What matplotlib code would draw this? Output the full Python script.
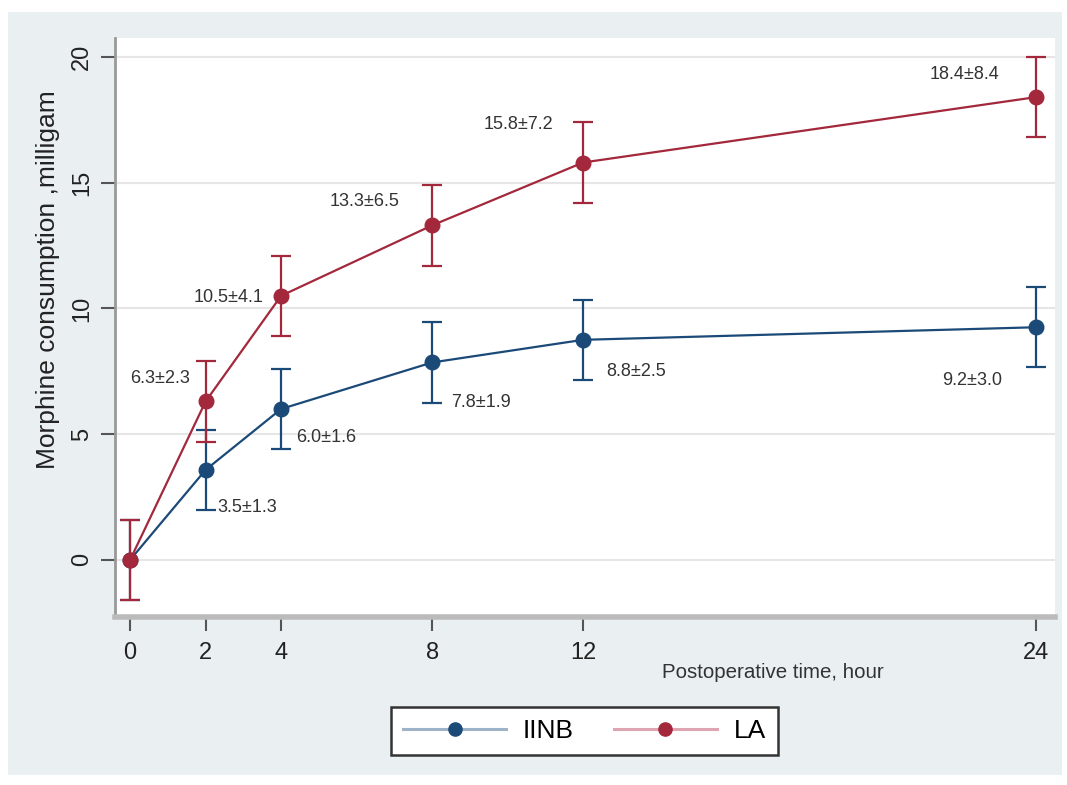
import matplotlib
matplotlib.use("Agg")
import matplotlib.pyplot as plt
from matplotlib.patches import Rectangle
from matplotlib.lines import Line2D

hours = [0, 2, 4, 8, 12, 24]
iinb_mean = [0, 3.58, 6.0, 7.85, 8.75, 9.25]
iinb_err = [1.6, 1.6, 1.6, 1.6, 1.6, 1.6]
la_mean = [0, 6.3, 10.5, 13.3, 15.8, 18.4]
la_err = [1.6, 1.6, 1.6, 1.6, 1.6, 1.6]
iinb_labels = ["3.5±1.3", "6.0±1.6", "7.8±1.9", "8.8±2.5", "9.2±3.0"]
la_labels = ["6.3±2.3", "10.5±4.1", "13.3±6.5", "15.8±7.2", "18.4±8.4"]
yticks = [0, 5, 10, 15, 20]

FONT = ["Liberation Sans Narrow", "Liberation Sans", "DejaVu Sans"]
plt.rcParams["font.family"] = FONT

c_iinb = "#1c4a78"
c_la = "#a3283c"
bg = "#eaeff2"

fig = plt.figure(figsize=(10.67, 7.85), dpi=100, facecolor="white")
fig.patches.append(Rectangle((8 / 1067, 1 - 775 / 785), (1062 - 8) / 1067, (775 - 12) / 785,
                             transform=fig.transFigure, facecolor=bg, edgecolor="none", zorder=-10))
ax = fig.add_axes([115 / 1067, 1 - 617 / 785, (1055 - 115) / 1067, (617 - 38) / 785])
ax.set_facecolor("white")

ax.set_xlim(-0.4, 24.5)
ax.set_ylim(-2.27, 20.75)
for y in yticks:
    ax.axhline(y, color="#e6e6e6", lw=1.5, zorder=0)

ax.errorbar(hours, iinb_mean, yerr=iinb_err, color=c_iinb, lw=1.6, marker="o", ms=10.5,
            capsize=7, capthick=1.6, elinewidth=1.6, zorder=3)
ax.errorbar(hours, la_mean, yerr=la_err, color=c_la, lw=1.6, marker="o", ms=10.5,
            capsize=7, capthick=1.6, elinewidth=1.6, zorder=4)

# annotations
la_pos = [(0.8, 7.2), (2.6, 10.45), (6.2, 14.25), (10.3, 17.3), (22.1, 19.3)]
iinb_pos = [(3.1, 2.07), (5.2, 4.85), (9.3, 6.25), (13.4, 7.5), (22.3, 7.15)]
for (x, y), t in zip(la_pos, la_labels):
    ax.text(x, y, t, ha="center", va="center", fontsize=13, color="#333333")
for (x, y), t in zip(iinb_pos, iinb_labels):
    ax.text(x, y, t, ha="center", va="center", fontsize=13, color="#333333")

ax.set_xticks(hours)
ax.set_xticklabels([str(h) for h in hours], fontsize=17, color="#222222")
ax.set_yticks(yticks)
ax.set_yticklabels([str(y) for y in yticks], fontsize=17, color="#222222",
                   rotation=90, va="center")
ax.tick_params(axis="both", direction="out", length=10, width=1.5, color="#555555", pad=6)
ax.tick_params(axis="x", pad=8)

for s in ["top", "right"]:
    ax.spines[s].set_visible(False)
ax.spines["left"].set_color("#999999")
ax.spines["left"].set_linewidth(2)
ax.spines["bottom"].set_color("#bbbbbb")
ax.spines["bottom"].set_linewidth(4)

ax.set_ylabel("Morphine consumption ,milligam", fontsize=19, color="#222222")
ax.yaxis.set_label_coords(-0.0585, 0.582)
fig.text(773 / 1067, 1 - 672 / 785, "Postoperative time, hour", ha="center", va="center",
         fontsize=14.8, color="#333333")

handles = [
    Line2D([0], [0], color="#9fb3c8", lw=2.2, marker="o", ms=9.5, markerfacecolor=c_iinb,
           markeredgecolor=c_iinb),
    Line2D([0], [0], color="#dca5b1", lw=2.2, marker="o", ms=9.5, markerfacecolor=c_la,
           markeredgecolor=c_la),
]
leg = fig.legend(handles, ["IINB", "LA"], loc="center", bbox_to_anchor=(584.5 / 1067, 1 - 731 / 785),
                 ncol=2, fontsize=19, frameon=True, fancybox=False, handlelength=3.9,
                 columnspacing=1.5, handletextpad=0.64, borderpad=0.45, borderaxespad=0,
                 framealpha=1)
leg.get_frame().set_edgecolor("#333333")
leg.get_frame().set_linewidth(1.8)
leg.get_frame().set_facecolor("white")

fig.savefig("out.png", dpi=100, facecolor=fig.get_facecolor())
